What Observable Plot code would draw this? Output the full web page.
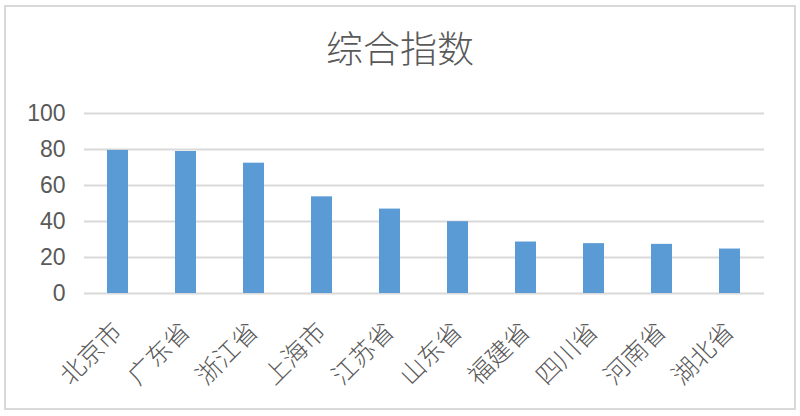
<!DOCTYPE html>
<html>
<head>
<meta charset="utf-8">
<script src="https://cdn.jsdelivr.net/npm/d3@7"></script>
<script src="https://cdn.jsdelivr.net/npm/@observablehq/plot@0.6"></script>
<style>
  html, body { margin: 0; padding: 0; background: #fff; }
  #wrap { position: relative; width: 800px; height: 416px; overflow: hidden; }
  #frame { position: absolute; left: 4px; top: 5px; width: 788px; height: 401px; border: 2px solid #d9d9d9; pointer-events: none; }
  #title { position: absolute; left: 0; top: 0; width: 800px; height: 90px; line-height: 94px; text-align: center;
           font-family: "Noto Sans CJK SC", sans-serif; font-weight: 300; font-size: 37px; color: #595959; }
  #chart { position: absolute; left: 0; top: 90px; }
  #chart .xlab text { font-weight: 300; }
</style>
</head>
<body>
<div id="wrap">
  <div id="title">综合指数</div>
  <div id="chart"></div>
  <div id="frame"></div>
</div>
<script>
const provinces = ["北京市", "广东省", "浙江省", "上海市", "江苏省", "山东省", "福建省", "四川省", "河南省", "湖北省"];
const values = [79.5, 78.9, 72.4, 53.7, 46.9, 39.9, 28.6, 27.7, 27.3, 24.7];
const yTicks = [0, 20, 40, 60, 80, 100];

const data = provinces.map((p, i) => ({province: p, value: values[i]}));

const chart = Plot.plot({
  width: 800,
  height: 326,
  marginTop: 23,
  marginBottom: 123,
  marginLeft: 84,
  marginRight: 36,
  style: {fontFamily: "'Liberation Sans', 'Noto Sans CJK SC', sans-serif", fontSize: "22px", color: "#595959", background: "transparent"},
  x: {domain: provinces, paddingInner: 0.686, paddingOuter: 0.343, label: null},
  y: {domain: [0, 100], label: null},
  marks: [
    Plot.gridY(yTicks, {stroke: "#d9d9d9", strokeOpacity: 1, strokeWidth: 1.8}),
    Plot.barY(data, {x: "province", y: "value", fill: "#5b9bd5"}),
    Plot.axisY(yTicks, {tickSize: 0, tickPadding: 19, fill: "#595959", fontSize: 23, label: null}),
    Plot.axisX({tickSize: 0, tickRotate: -45, tickPadding: 34, fill: "#595959", fontSize: 25, label: null, className: "xlab"})
  ]
});
document.getElementById("chart").appendChild(chart);
</script>
</body>
</html>
